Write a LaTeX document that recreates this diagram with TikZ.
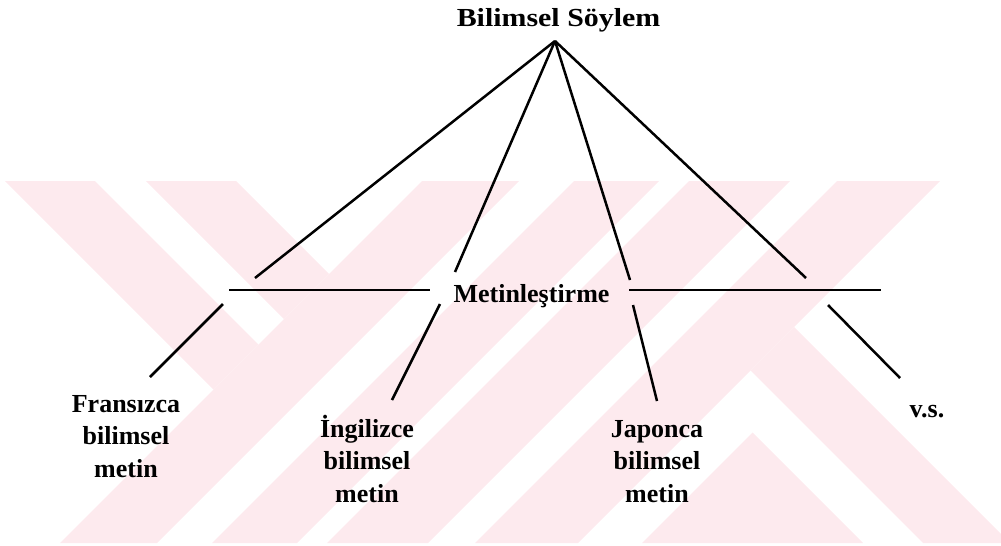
\documentclass[tikz,border=0pt]{standalone}
\usepackage{fontspec}
\setmainfont{Liberation Serif}
\usepackage{graphicx}
\usetikzlibrary{positioning}
\definecolor{wmpink}{RGB}{253,234,238}

\begin{document}
\begin{tikzpicture}[x=1pt,y=-1pt,
  branch/.style={line width=2.5pt,black},
  lbl/.style={font=\bfseries\fontsize{26}{32.5}\selectfont,inner sep=0pt,align=center}]
\useasboundingbox (0,0) rectangle (1001,546);

% watermark in the background
\fill[wmpink] (5,181) -- (95,181) -- (258.5,344.5) -- (213.5,389.5) -- cycle;
\fill[wmpink] (146,181) -- (236,181) -- (329,274) -- (284,319) -- cycle;
\foreach \a/\b in {603/700,755/840,870/971,1018/1121}
  \fill[wmpink] ({\a-181},181) -- ({\b-181},181) -- ({\b-543},543) -- ({\a-543},543) -- cycle;
\fill[wmpink] (750.5,370.5) -- (794,327) -- (1001,534) -- (1001,543) -- (923,543) -- cycle;
\fill[wmpink] (752.5,432.5) -- (863,543) -- (642,543) -- cycle;

% texts
\node[lbl,anchor=base] (soylem) at (558.5,27) {\scalebox{1.15}[1]{Bilimsel Söylem}};
\node[lbl,anchor=base] (metin) at (531.5,302) {Metinleştirme};
\node[lbl,anchor=north] (fr) at (126,389.25) {\strut Fransızca\\bilimsel\\metin};
\node[lbl,anchor=north] (en) at (367,414.25) {\strut İngilizce\\bilimsel\\metin};
\node[lbl,anchor=north] (jp) at (657,414.25) {\strut Japonca\\bilimsel\\metin};
\node[lbl,anchor=base] (vs) at (927,417) {v.s.};

% end points of the branches
\coordinate (apex) at (555,41);
\coordinate (u1) at (255,278);
\coordinate (u2) at (455,272);
\coordinate (u3) at (630,280);
\coordinate (u4) at (806,278);
\coordinate (h1) at (229,290);
\coordinate (h2) at (430,290);
\coordinate (h3) at (629,290);
\coordinate (h4) at (881,290);

\foreach \p in {u1,u2,u3,u4}
  \draw[branch] (apex) -- (\p);
\draw[branch] (h1) -- (h2);
\draw[branch] (h3) -- (h4);

\draw[branch] (223,304) coordinate (d1) -- (150,377) coordinate (e1);
\draw[branch] (440,304) coordinate (d2) -- (392,400) coordinate (e2);
\draw[branch] (633,305) coordinate (d3) -- (657,401) coordinate (e3);
\draw[branch] (828,305) coordinate (d4) -- (900,378) coordinate (e4);
\end{tikzpicture}
\end{document}
